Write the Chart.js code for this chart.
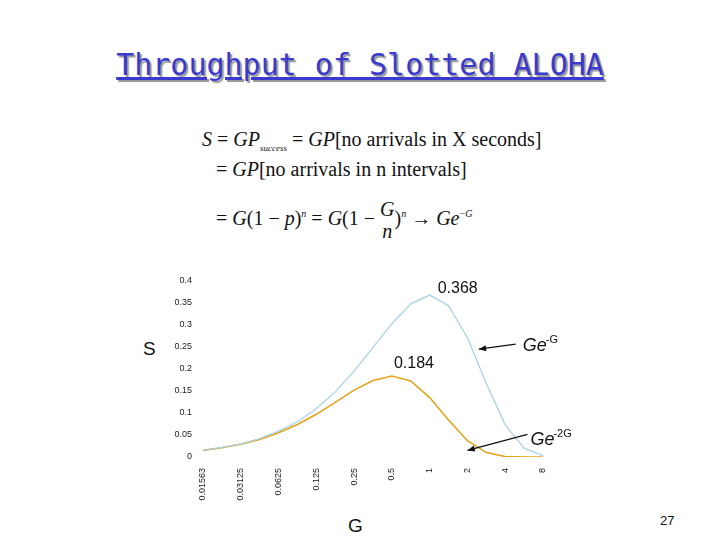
<!DOCTYPE html>
<html>
<head>
<meta charset="utf-8">
<script src="https://cdn.jsdelivr.net/npm/chart.js@4.4.1/dist/chart.umd.min.js"></script>
<style>
  body { margin: 0; width: 720px; height: 540px; background: #fff; position: relative; overflow: hidden; }
  #chart { position: absolute; left: 0; top: 0; }
  .title { position: absolute; top: 47px; left: 0; width: 720px; text-align: center;
           font-family: 'DejaVu Sans Mono', monospace; font-size: 30px; color: #3a3ad0;
           text-decoration: underline; text-shadow: 2px 2px 1px #999; }
  .eq { position: absolute; font-family: 'Liberation Serif', serif; font-size: 20px; color: #111; }
  .lbl { position: absolute; font-family: 'Liberation Sans', Arial, sans-serif; color: #111; }
</style>
</head>
<body>
<div class="title">Throughput of Slotted ALOHA</div>
<div class="eq" style="left:202px;top:128px"><i>S</i> = <i>GP</i><sub style="font-size:9px"><i>success</i></sub> = <i>GP</i>[no arrivals in X seconds]</div>
<div class="eq" style="left:216px;top:158px">= <i>GP</i>[no arrivals in n intervals]</div>
<div class="eq" style="left:216px;top:198px">= <i>G</i>(1 &minus; <i>p</i>)<sup style="font-size:10px"><i>n</i></sup> = <i>G</i>(1 &minus; <span style="display:inline-block;text-align:center;vertical-align:middle;line-height:22px"><i>G</i><br><i>n</i></span>)<sup style="font-size:10px"><i>n</i></sup> &rarr; <i>Ge</i><sup style="font-size:10px">&minus;<i>G</i></sup></div>
<div class="lbl" style="left:143px;top:338px;font-size:19px">S</div>
<div class="lbl" style="left:348px;top:515px;font-size:19px">G</div>
<div class="lbl" style="left:660px;top:513px;font-size:13px">27</div>
<canvas id="chart" width="720" height="540"></canvas>
<script>
const gValues = ['0.01563', '', '0.03125', '', '0.0625', '', '0.125', '', '0.25', '', '0.5', '', '1', '', '2', '', '4', '', '8'];
const slottedS = [0.015, 0.022, 0.030, 0.042, 0.059, 0.080, 0.110, 0.148, 0.195, 0.249, 0.303, 0.348, 0.368, 0.344, 0.271, 0.167, 0.073, 0.020, 0.003];
const pureS = [0.015, 0.021, 0.029, 0.040, 0.055, 0.074, 0.097, 0.124, 0.152, 0.174, 0.184, 0.173, 0.135, 0.084, 0.037, 0.010, 0.001, 0.0001, 0];
const yTicks = [0, 0.05, 0.1, 0.15, 0.2, 0.25, 0.3, 0.35, 0.4];

// peak labels and arrows, placed through the scales
const notes = {
    id: 'notes',
    afterDraw(chart) {
        const { ctx, scales: { x, y } } = chart;
        ctx.save();
        ctx.fillStyle = '#111';
        ctx.font = '16px "Liberation Sans", Arial, sans-serif';
        ctx.fillText('0.368', x.getPixelForValue(12) + 8, y.getPixelForValue(0.368) - 2);
        ctx.fillText('0.184', x.getPixelForValue(10) + 2, y.getPixelForValue(0.184) - 8);

        const arrow = (x1, y1, x2, y2) => {
            ctx.strokeStyle = '#111';
            ctx.lineWidth = 1.2;
            ctx.beginPath(); ctx.moveTo(x1, y1); ctx.lineTo(x2, y2); ctx.stroke();
            const a = Math.atan2(y2 - y1, x2 - x1);
            ctx.beginPath();
            ctx.moveTo(x2, y2);
            ctx.lineTo(x2 - 8 * Math.cos(a - 0.4), y2 - 8 * Math.sin(a - 0.4));
            ctx.lineTo(x2 - 8 * Math.cos(a + 0.4), y2 - 8 * Math.sin(a + 0.4));
            ctx.closePath(); ctx.fill();
        };
        const lx1 = x.getPixelForValue(14.6), ly1 = y.getPixelForValue(0.245);
        arrow(lx1 + 37, ly1 - 5, lx1, ly1);
        ctx.font = 'italic 18px "Liberation Sans", Arial, sans-serif';
        ctx.fillText('Ge', lx1 + 44, ly1 + 2);
        ctx.font = '11px "Liberation Sans", Arial, sans-serif';
        ctx.fillText('-G', lx1 + 67, ly1 - 6);

        const lx2 = x.getPixelForValue(14), ly2 = y.getPixelForValue(0.015);
        arrow(lx2 + 60, ly2 - 16, lx2, ly2);
        ctx.font = 'italic 18px "Liberation Sans", Arial, sans-serif';
        ctx.fillText('Ge', lx2 + 63, ly2 - 5);
        ctx.font = '11px "Liberation Sans", Arial, sans-serif';
        ctx.fillText('-2G', lx2 + 86, ly2 - 13);
        ctx.restore();
    }
};

new Chart(document.getElementById('chart'), {
    type: 'line',
    data: {
        labels: gValues,
        datasets: [
            { data: slottedS, borderColor: '#a9d3e4', borderWidth: 1.3, pointRadius: 0, tension: 0 },
            { data: pureS, borderColor: '#e5a21c', borderWidth: 1.6, pointRadius: 0, tension: 0 }
        ]
    },
    options: {
        responsive: false,
        animation: false,
        layout: { padding: { left: 170, right: 177, top: 281, bottom: 38 } },
        plugins: { legend: { display: false }, tooltip: { enabled: false } },
        scales: {
            x: {
                grid: { display: false },
                border: { display: false },
                afterFit: s => { s.height = 45; },
                ticks: {
                    autoSkip: false, maxRotation: 90, minRotation: 90,
                    color: '#222', font: { size: 9, family: 'Liberation Sans' }
                }
            },
            y: {
                min: 0, max: 0.4,
                grid: { display: false },
                border: { display: false },
                afterFit: s => { s.width = 33; },
                afterBuildTicks: s => { s.ticks = yTicks.map(v => ({ value: v })); },
                ticks: { color: '#222', font: { size: 9, family: 'Liberation Sans' }, callback: v => String(v) }
            }
        }
    },
    plugins: [notes]
});
</script>
</body>
</html>
